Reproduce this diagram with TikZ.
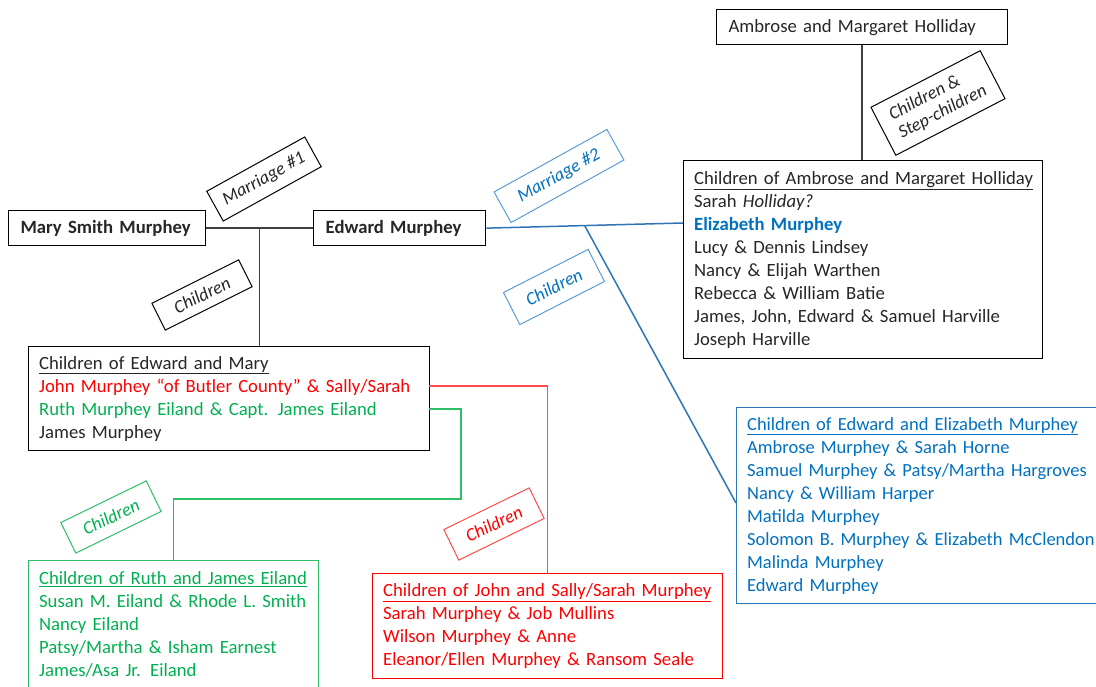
\documentclass[tikz,border=0pt]{standalone}
\usepackage{fontspec}
\setmainfont{Carlito}
\usetikzlibrary{calc}
\definecolor{tblue}{HTML}{0070C0}
\definecolor{lblue}{HTML}{2E75B6}
\definecolor{pblue}{HTML}{5B9BD5}
\definecolor{tred}{HTML}{FF0000}
\definecolor{lred}{HTML}{FF4B4B}
\definecolor{tgreen}{HTML}{00B050}
\definecolor{lgreen}{HTML}{2DBE66}
\definecolor{tgray}{HTML}{262626}
\definecolor{lgray}{HTML}{404040}
\tikzset{
  famfont/.style={font=\fontsize{18.7}{23}\selectfont},
  onebox/.style={draw=black, line width=1.3pt, anchor=north west, align=left,
    inner xsep=12pt, inner ysep=0pt, famfont, text=tgray},
  listbox/.style={draw=black, line width=1.3pt, anchor=north west, align=left,
    inner xsep=10.5pt, inner ysep=0pt, famfont, text=tgray},
  tag/.style={draw, line width=1pt, inner sep=0pt, align=left,
    font=\fontsize{18.2}{20.5}\selectfont\itshape},
  kline/.style={draw=lgray, line width=1.5pt},
  bline/.style={draw=lblue, line width=1.5pt},
  rline/.style={draw=lred, line width=1.5pt},
  gline/.style={draw=lgreen, line width=1.5pt},
}
\begin{document}
\begin{tikzpicture}[x=1pt,y=-1pt]
\useasboundingbox (0,0) rectangle (1096,687);
\clip (0,0) rectangle (1096,687);

% single-name boxes
\node[onebox, text width=267pt, minimum height=35pt] (amb) at (716,9)
  {Ambrose and Margaret Holliday};
\node[onebox, text width=173pt, minimum height=35pt] (mary) at (8,210)
  {\textbf{Mary Smith Murphey}};
\node[onebox, text width=148pt, minimum height=35pt] (edward) at (313,210)
  {\textbf{Edward Murphey}};

% list boxes
\node[listbox, text width=338pt, minimum height=198pt] (ambkids) at (683,160)
  {\underline{Children of Ambrose and Margaret Holliday}\\
   Sarah \textit{Holliday?}\\
   \textcolor{tblue}{\textbf{Elizabeth Murphey}}\\
   Lucy \& Dennis Lindsey\\
   Nancy \& Elijah Warthen\\
   Rebecca \& William Batie\\
   James, John, Edward \& Samuel Harville\\
   Joseph Harville};

\node[listbox, text width=380pt, minimum height=104pt] (emkids) at (28,346)
  {\underline{Children of Edward and Mary}\\
   \textcolor{tred}{John Murphey “of Butler County” \& Sally/Sarah}\\
   \textcolor{tgreen}{Ruth Murphey Eiland \& Capt. James Eiland}\\
   James Murphey};

\node[listbox, draw=lblue, text=tblue, text width=360pt, minimum height=196pt,
      font=\fontsize{18.5}{23}\selectfont] (eekids) at (736,407)
  {\underline{Children of Edward and Elizabeth Murphey}\\
   Ambrose Murphey \& Sarah Horne\\
   Samuel Murphey \& Patsy/Martha Hargroves\\
   Nancy \& William Harper\\
   Matilda Murphey\\
   Solomon B. Murphey \& Elizabeth {\spaceskip=0.8\fontdimen2\font McClendon}\\
   Malinda Murphey\\
   Edward Murphey};

\node[listbox, draw=lgreen, text=tgreen, text width=269pt, minimum height=127pt] (rjkids) at (28,560)
  {\underline{Children of Ruth and James Eiland}\\
   Susan M. Eiland \& Rhode L. Smith\\
   Nancy Eiland\\
   Patsy/Martha \& Isham Earnest\\
   James/Asa Jr. Eiland};

\node[listbox, draw=tred, text=tred, text width=329pt, minimum height=105pt] (jskids) at (372,573)
  {\underline{Children of John and Sally/Sarah Murphey}\\
   Sarah Murphey \& Job Mullins\\
   Wilson Murphey \& Anne\\
   Eleanor/Ellen Murphey \& Ransom Seale};

% connectors
\path[kline] (amb.south) -- (amb.south |- ambkids.north);
\path[kline] (mary.east) -- (edward.west);
\coordinate (m1) at ($(mary.east)!0.5!(edward.west)$);
\path[kline] (m1) -- (m1 |- emkids.north);

\coordinate (e2) at (683,223);
\path[bline] (edward.east) -- (e2);
\coordinate (bstart) at ($(edward.east)!0.5!(e2)$);
\coordinate (bend) at (736,503);
\path[bline] (bstart) -- (bend);

\coordinate (jl) at (429,386);
\path[rline] (jl) -| (jskids.north);
\coordinate (rl) at (429,409);
\coordinate (g1) at (461,499);
\path[gline] (rl) -| (g1) -| (rjkids.north);

% rotated labels
\node[tag, draw=black, text=tgray, rotate=29, minimum width=112pt, minimum height=34pt] (m1tag) at (264,179) {Marriage \#1};
\node[tag, draw=pblue, text=tblue, rotate=29, minimum width=129pt, minimum height=35pt] (m2tag) at (559,176) {Marriage \#2};
\node[tag, draw=black, text=tgray, rotate=26.6, minimum width=97pt, minimum height=30pt] (c1tag) at (202,295) {Children};
\node[tag, draw=pblue, text=tblue, rotate=27, minimum width=95pt, minimum height=36pt] (c2tag) at (554,287) {Children};
\node[tag, draw=lgreen, text=tgreen, rotate=26, minimum width=95pt, minimum height=34pt] (c3tag) at (111,517) {Children};
\node[tag, draw=lred, text=tred, rotate=26, minimum width=95pt, minimum height=34pt] (c4tag) at (494,524) {Children};
\node[tag, draw=black, text=tgray, rotate=27.4, minimum width=123pt, minimum height=54pt] (c5tag) at (938,103)
  {Children \&\\Step-children};
\end{tikzpicture}
\end{document}
